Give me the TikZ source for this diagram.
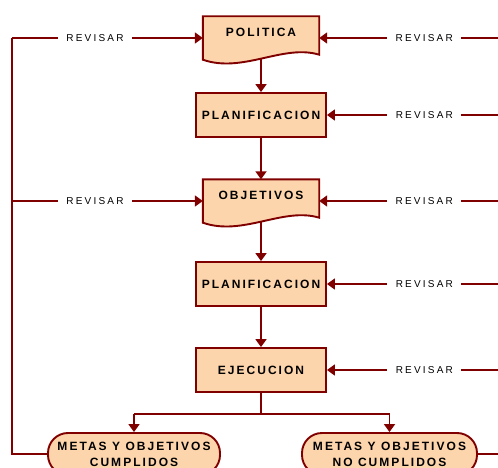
\documentclass[tikz,border=0pt]{standalone}
\usepackage{fontspec}
\setmainfont{Liberation Sans}
\newfontfamily\boxfont[LetterSpace=17]{Liberation Sans}
\newfontfamily\revfont[LetterSpace=22]{Liberation Sans}
\usetikzlibrary{arrows.meta,backgrounds,calc}
\definecolor{maroon}{RGB}{128,0,0}
\definecolor{peach}{RGB}{253,213,172}
\tikzset{
  conn/.style={draw=maroon, line width=1.8pt},
  arr/.style={conn, -{Triangle[width=11pt,length=8pt]}},
  boxtext/.style={font=\boxfont\bfseries\fontsize{12}{16}\selectfont},
  procbox/.style={boxtext, draw=maroon, line width=1.9pt, fill=peach,
    minimum width=130pt, minimum height=44pt, inner sep=0pt},
  docbox/.style={boxtext, minimum width=116pt, minimum height=43pt,
    inner sep=0pt, text height=8.6pt, text depth=10.6pt},
  docshape/.style={draw=maroon, line width=1.9pt, fill=peach},
  termbox/.style={boxtext, draw=maroon, line width=1.9pt, fill=peach,
    rounded corners=20pt, minimum height=42pt, inner sep=0pt, align=center},
  revlabel/.style={fill=white, inner xsep=8.5pt, inner ysep=1pt,
    font=\revfont\fontsize{10}{12}\selectfont}
}
\newcommand{\docpath}[1]{%
  (#1.north west) -- (#1.north east) -- ([yshift=5pt]#1.south east)
  .. controls ([xshift=-36pt,yshift=16pt]#1.south east)
  and ([xshift=40pt,yshift=-14pt]#1.south west) .. (#1.south west) -- cycle}
\begin{document}
\begin{tikzpicture}[x=1pt,y=-1pt]
  \useasboundingbox (0,0) rectangle (498,468);
  \clip (0,0) rectangle (498,468);

  % flow nodes
  \node[docbox]  (pol)   at (261,38)  {POLITICA};
  \node[procbox] (plan1) at (261,115) {PLANIFICACION};
  \node[docbox]  (obj)   at (261,201) {OBJETIVOS};
  \node[procbox] (plan2) at (261,284) {PLANIFICACION};
  \node[procbox] (ejec)  at (261,370) {EJECUCION};
  \node[termbox, minimum width=172pt] (cum)   at (134,454)
    {METAS Y OBJETIVOS\\CUMPLIDOS};
  \node[termbox, minimum width=175pt] (nocum) at (389.5,454)
    {METAS Y OBJETIVOS\\NO CUMPLIDOS};

  % document outlines behind their text
  \begin{pgfonlayer}{background}
    \path[docshape] \docpath{pol};
    \path[docshape] \docpath{obj};
  \end{pgfonlayer}

  % helper coordinates for the loops
  \coordinate (split) at (261,414);
  \coordinate (lv) at (12,0);
  \coordinate (rv) at (506,0);

  % main sequence
  \draw[arr] ([yshift=1pt]pol.south) -- (plan1.north);
  \draw[arr] (plan1.south) -- (obj.north);
  \draw[arr] ([yshift=1pt]obj.south) -- (plan2.north);
  \draw[arr] (plan2.south) -- (ejec.north);
  \draw[conn] (ejec.south) -- (split);
  \draw[conn] (cum.north |- split) -- (nocum.north |- split);
  \draw[arr] (cum.north |- split) -- (cum.north);
  \draw[arr] (nocum.north |- split) -- (nocum.north);

  % left loop: goals met
  \draw[conn] (cum.west) -- (cum.west -| lv) -- (lv |- pol.west);
  \draw[arr] (lv |- pol.west) -- node[revlabel, pos=0.435] {REVISAR} (pol.west);
  \draw[arr] (lv |- obj.west) -- node[revlabel, pos=0.435] {REVISAR} (obj.west);

  % right loop: goals not met
  \draw[conn] (nocum.east) -- (nocum.east -| rv) -- (rv |- pol.east);
  \draw[arr] (rv |- pol.east)   -- node[revlabel, pos=0.438] {REVISAR} (pol.east);
  \draw[arr] (rv |- plan1.east) -- node[revlabel, pos=0.456] {REVISAR} (plan1.east);
  \draw[arr] (rv |- obj.east)   -- node[revlabel, pos=0.438] {REVISAR} (obj.east);
  \draw[arr] (rv |- plan2.east) -- node[revlabel, pos=0.456] {REVISAR} (plan2.east);
  \draw[arr] (rv |- ejec.east)  -- node[revlabel, pos=0.456] {REVISAR} (ejec.east);
\end{tikzpicture}
\end{document}
